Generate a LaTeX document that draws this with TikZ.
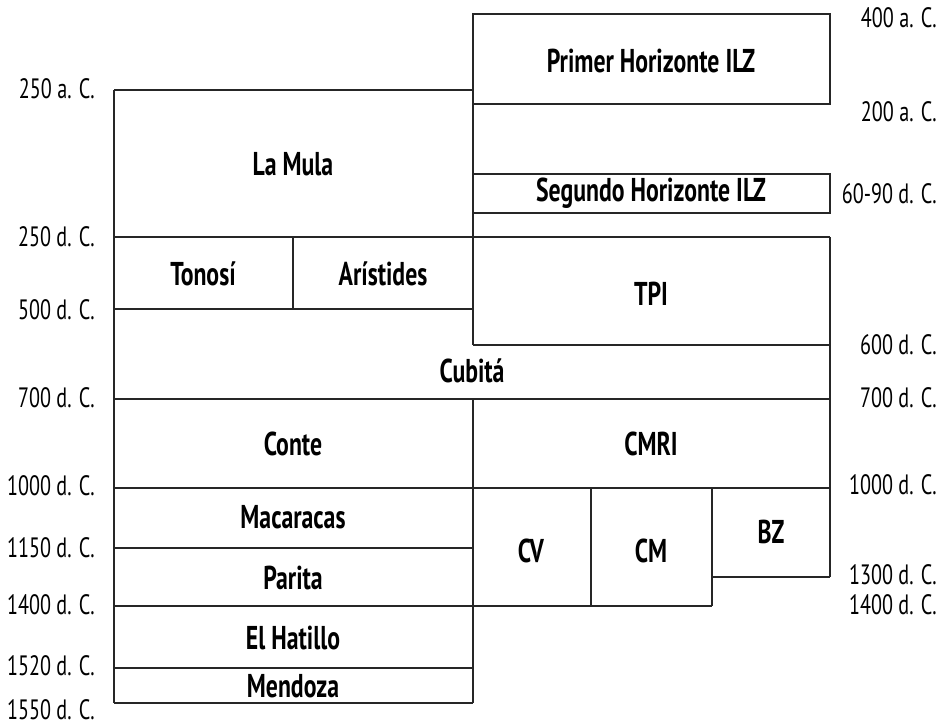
\documentclass[tikz,border=0pt]{standalone}
\usepackage{fontspec}
\setmainfont{PT Sans}[FakeStretch=0.72]
\begin{document}
\begin{tikzpicture}[x=0.5pt, y=-0.5pt,
    grid/.style={draw=black!85, line width=0.75pt},
    period/.style={font=\bfseries\fontsize{16.5}{19}\selectfont, anchor=base, inner sep=0pt},
    date/.style={font=\fontsize{14}{16}\selectfont, anchor=base east, inner sep=0pt}]
    \useasboundingbox (0,0) rectangle (941,727);

    % boxes
    \draw[grid] (473,14) rectangle (830,104);
    \draw[grid] (473,174) rectangle (830,213);
    \draw[grid] (473,14) -- (473,345);
    \draw[grid] (473,399) -- (473,703);
    \draw[grid] (114,90) -- (473,90);
    \draw[grid] (114,90) -- (114,703);
    \draw[grid] (114,237) -- (830,237);
    \draw[grid] (293,237) -- (293,309);
    \draw[grid] (114,309) -- (473,309);
    \draw[grid] (473,345) -- (830,345);
    \draw[grid] (830,237) -- (830,577);
    \draw[grid] (114,399) -- (830,399);
    \draw[grid] (114,488) -- (830,488);
    \draw[grid] (114,548) -- (473,548);
    \draw[grid] (114,606) -- (712,606);
    \draw[grid] (591,488) -- (591,606);
    \draw[grid] (712,488) -- (712,606);
    \draw[grid] (712,577) -- (830,577);
    \draw[grid] (114,668) -- (473,668);
    \draw[grid] (114,703) -- (473,703);

    % periods
    \node[period] (primer) at (651,73) {Primer Horizonte ILZ};
    \node[period] (mula) at (293,176) {La Mula};
    \node[period] (segundo) at (651,202) {Segundo Horizonte ILZ};
    \node[period] (tonosi) at (203,285) {Tonosí};
    \node[period] (aristides) at (383,285) {Arístides};
    \node[period] (tpi) at (651,305) {TPI};
    \node[period] (cubita) at (472,382) {Cubitá};
    \node[period] (conte) at (293,455) {Conte};
    \node[period] (cmri) at (651,455) {CMRI};
    \node[period] (macaracas) at (293,528) {Macaracas};
    \node[period] (bz) at (771,543) {BZ};
    \node[period] (cv) at (531,562) {CV};
    \node[period] (cm) at (651,562) {CM};
    \node[period] (parita) at (293,589) {Parita};
    \node[period] (hatillo) at (293,649) {El Hatillo};
    \node[period] (mendoza) at (293,697) {Mendoza};

    % dates, left
    \node[date] (l250ac) at (95,99) {250 a. C.};
    \node[date] (l250dc) at (95,247) {250 d. C.};
    \node[date] (l500) at (95,319) {500 d. C.};
    \node[date] (l700) at (95,407) {700 d. C.};
    \node[date] (l1000) at (95,495) {1000 d. C.};
    \node[date] (l1150) at (95,557) {1150 d. C.};
    \node[date] (l1400) at (95,614) {1400 d. C.};
    \node[date] (l1520) at (95,675) {1520 d. C.};
    \node[date] (l1550) at (95,719) {1550 d. C.};

    % dates, right
    \node[date] (r400ac) at (937,28) {400 a. C.};
    \node[date] (r200ac) at (937,122) {200 a. C.};
    \node[date] (r6090) at (937,204) {60-90 d. C.};
    \node[date] (r600) at (937,354) {600 d. C.};
    \node[date] (r700) at (937,407) {700 d. C.};
    \node[date] (r1000) at (937,494) {1000 d. C.};
    \node[date] (r1300) at (937,584) {1300 d. C.};
    \node[date] (r1400) at (937,614) {1400 d. C.};
\end{tikzpicture}
\end{document}
